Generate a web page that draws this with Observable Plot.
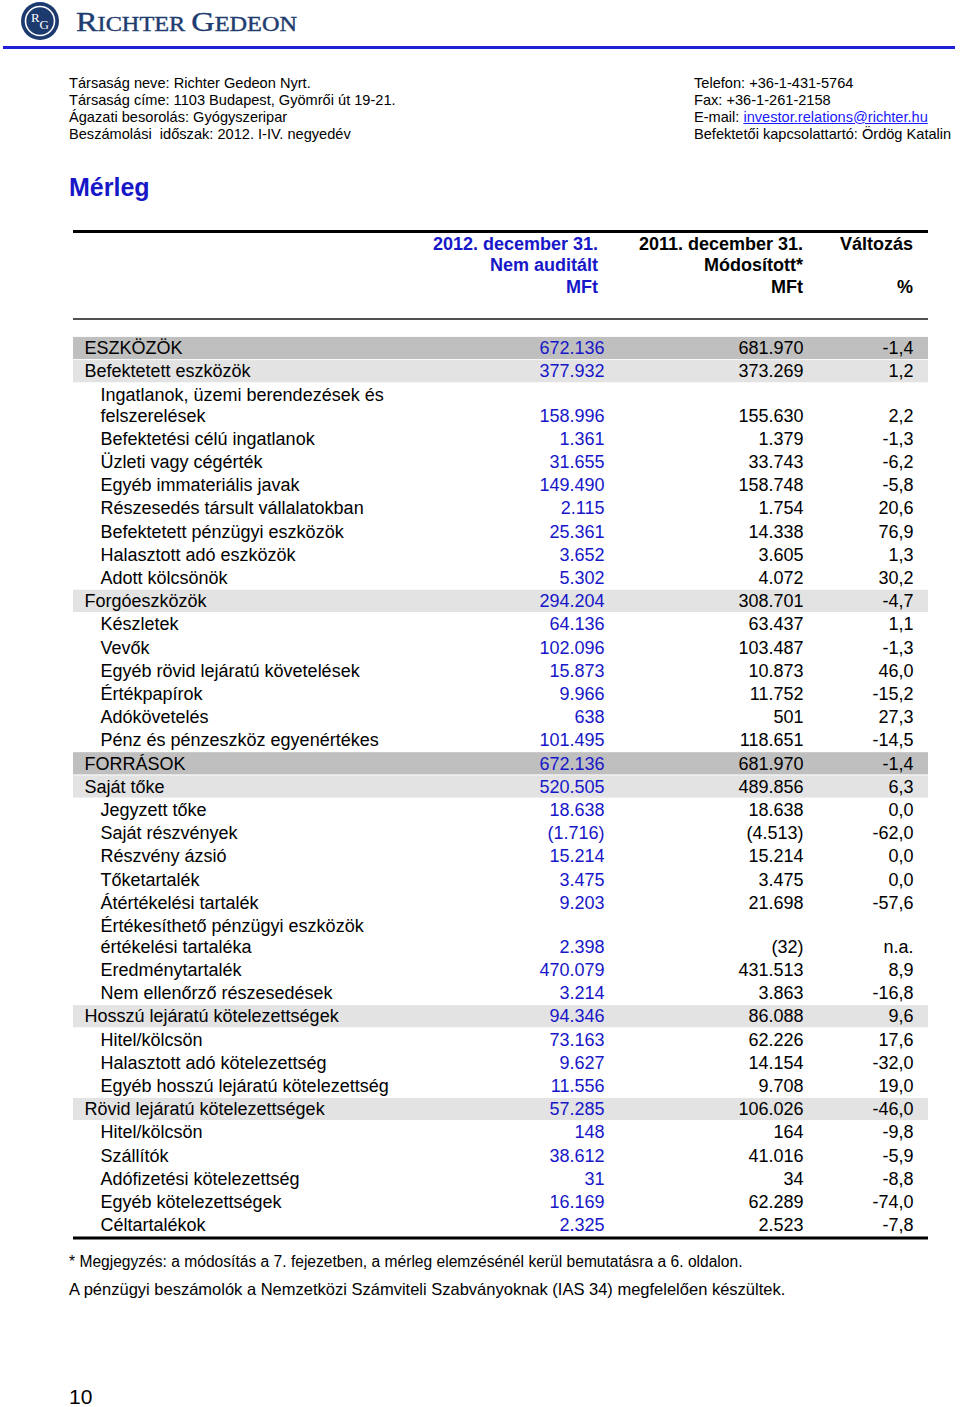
<!DOCTYPE html>
<html lang="hu">
<head>
<meta charset="utf-8">
<script src="https://cdn.jsdelivr.net/npm/d3@7"></script>
<script src="https://cdn.jsdelivr.net/npm/@observablehq/plot@0.6"></script>
<style>
  html, body { margin: 0; padding: 0; background: #fff; }
  body { width: 960px; height: 1407px; position: relative; overflow: hidden;
         font-family: "Liberation Sans", Arial, sans-serif; color: #000; }
  .abs { position: absolute; white-space: nowrap; }
  .info { font-size: 14.6px; line-height: 17px; }
  .hdr { font-size: 18px; font-weight: bold; line-height: 22px; text-align: right; }
  .blue { color: #1717c8; }
  a { color: #1a1aff; text-decoration: underline; }
  #table { position: absolute; left: 0; top: 322px; }
</style>
</head>
<body>
<!-- Logo and banner -->
<svg class="abs" style="left:0;top:0" width="960" height="52">
  <circle cx="40" cy="21" r="19" fill="#1c3a6e"/>
  <circle cx="40" cy="21" r="14.5" fill="none" stroke="#fff" stroke-width="1.6"/>
  <text x="31" y="22" fill="#fff" font-family="Liberation Serif, serif" font-size="13">R</text>
  <text x="39.5" y="29" fill="#fff" font-family="Liberation Serif, serif" font-size="13">G</text>
  <text x="76" y="31" fill="#1e3c70" stroke="#1e3c70" stroke-width="0.4" font-family="Liberation Serif, serif" textLength="221" lengthAdjust="spacingAndGlyphs"><tspan font-size="28">R</tspan><tspan font-size="21">ICHTER</tspan><tspan font-size="21"> </tspan><tspan font-size="28">G</tspan><tspan font-size="21">EDEON</tspan></text>
  <rect x="3" y="46" width="952" height="3" fill="#1f1fd6"/>
</svg>

<!-- Company info -->
<div class="abs info" style="left:69px;top:74.5px">Társaság neve: Richter Gedeon Nyrt.</div>
<div class="abs info" style="left:69px;top:91.5px">Társaság címe: 1103 Budapest, Gyömrői út 19-21.</div>
<div class="abs info" style="left:69px;top:108.5px">Ágazati besorolás: Gyógyszeripar</div>
<div class="abs info" style="left:69px;top:125.5px">Beszámolási&nbsp; időszak: 2012. I-IV. negyedév</div>
<div class="abs info" style="left:694px;top:74.5px">Telefon: +36-1-431-5764</div>
<div class="abs info" style="left:694px;top:91.5px">Fax: +36-1-261-2158</div>
<div class="abs info" style="left:694px;top:108.5px">E-mail: <a>investor.relations@richter.hu</a></div>
<div class="abs info" style="left:694px;top:125.5px">Befektetői kapcsolattartó: Ördög Katalin</div>

<!-- Title -->
<div class="abs blue" style="left:69px;top:172px;font-size:25px;font-weight:bold;line-height:30px">Mérleg</div>

<!-- Table header -->
<div class="abs" style="left:73px;top:230px;width:855px;height:3px;background:#000"></div>
<div class="abs hdr blue" style="left:0;width:598px;top:233px">2012. december 31.</div>
<div class="abs hdr blue" style="left:0;width:598px;top:254px">Nem auditált</div>
<div class="abs hdr blue" style="left:0;width:598px;top:276px">MFt</div>
<div class="abs hdr" style="left:0;width:803px;top:233px">2011. december 31.</div>
<div class="abs hdr" style="left:0;width:803px;top:254px">Módosított*</div>
<div class="abs hdr" style="left:0;width:803px;top:276px">MFt</div>
<div class="abs hdr" style="left:0;width:913px;top:233px">Változás</div>
<div class="abs hdr" style="left:0;width:913px;top:276px">%</div>
<div class="abs" style="left:73px;top:318px;width:855px;height:2px;background:#505050"></div>

<div id="table"></div>

<!-- Notes -->
<div class="abs" style="left:69px;top:1252px;font-size:15.6px;line-height:19px">* Megjegyzés: a módosítás a 7. fejezetben, a mérleg elemzésénél kerül bemutatásra a 6. oldalon.</div>
<div class="abs" style="left:69px;top:1279px;font-size:16.5px;line-height:20px">A pénzügyi beszámolók a Nemzetközi Számviteli Szabványoknak (IAS 34) megfelelően készültek.</div>
<div class="abs" style="left:69px;top:1384px;font-size:21px;line-height:26px">10</div>

<script>
// ---------------- Data ----------------
const labels = [
  "ESZKÖZÖK",
  "Befektetett eszközök",
  "Ingatlanok, üzemi berendezések és\nfelszerelések",
  "Befektetési célú ingatlanok",
  "Üzleti vagy cégérték",
  "Egyéb immateriális javak",
  "Részesedés társult vállalatokban",
  "Befektetett pénzügyi eszközök",
  "Halasztott adó eszközök",
  "Adott kölcsönök",
  "Forgóeszközök",
  "Készletek",
  "Vevők",
  "Egyéb rövid lejáratú követelések",
  "Értékpapírok",
  "Adókövetelés",
  "Pénz és pénzeszköz egyenértékes",
  "FORRÁSOK",
  "Saját tőke",
  "Jegyzett tőke",
  "Saját részvények",
  "Részvény ázsió",
  "Tőketartalék",
  "Átértékelési tartalék",
  "Értékesíthető pénzügyi eszközök\nértékelési tartaléka",
  "Eredménytartalék",
  "Nem ellenőrző részesedések",
  "Hosszú lejáratú kötelezettségek",
  "Hitel/kölcsön",
  "Halasztott adó kötelezettség",
  "Egyéb hosszú lejáratú kötelezettség",
  "Rövid lejáratú kötelezettségek",
  "Hitel/kölcsön",
  "Szállítók",
  "Adófizetési kötelezettség",
  "Egyéb kötelezettségek",
  "Céltartalékok"
];
// row level: 0 = main / group heading, 1 = indented item
const levels = [0,0,1,1,1,1,1,1,1,1,0,1,1,1,1,1,1,0,0,1,1,1,1,1,1,1,1,0,1,1,1,0,1,1,1,1,1];
// row shading: "dark" total rows, "light" subtotal rows
const shades = ["dark","light",null,null,null,null,null,null,null,null,"light",null,null,null,null,null,null,
                "dark","light",null,null,null,null,null,null,null,null,"light",null,null,null,"light",null,null,null,null,null];
// 2012. december 31. (MFt, unaudited)
const values2012 = [672136,377932,158996,1361,31655,149490,2115,25361,3652,5302,294204,64136,102096,15873,9966,638,101495,
                    672136,520505,18638,-1716,15214,3475,9203,2398,470079,3214,94346,73163,9627,11556,57285,148,38612,31,16169,2325];
// 2011. december 31. (MFt, restated)
const values2011 = [681970,373269,155630,1379,33743,158748,1754,14338,3605,4072,308701,63437,103487,10873,11752,501,118651,
                    681970,489856,18638,-4513,15214,3475,21698,-32,431513,3863,86088,62226,14154,9708,106026,164,41016,34,62289,2523];
// Változás (%), null = n.a.
const changes = [-1.4,1.2,2.2,-1.3,-6.2,-5.8,20.6,76.9,1.3,30.2,-4.7,1.1,-1.3,46.0,-15.2,27.3,-14.5,
                 -1.4,6.3,0.0,-62.0,0.0,0.0,-57.6,null,8.9,-16.8,9.6,17.6,-32.0,19.0,-46.0,-9.8,-5.9,-8.8,-74.0,-7.8];

// ---------------- Layout / style ----------------
const BAND_L = 73, BAND_R = 928;
const LABEL_X = [84, 100];
const COL1_X = 604, COL2_X = 803, COL3_X = 913;
const EXTRA_LINE = 0.9;          // extra height (in row units) for each wrapped line
const Y_TOP = 14.4, Y_BOTTOM = 914.6;
const BLUE = "#1717c8";
const SHADE = {dark: "#bfbfbf", light: "#e3e3e3"};
const FONT = "Liberation Sans, Arial, sans-serif";

const hu = d3.formatLocale({decimal: ",", thousands: ".", grouping: [3], currency: ["", ""], minus: "-"});
const fmtMFt = hu.format("(,.0f");
const fmtPct = hu.format(",.1f");

// Build rows with cumulative positions in "row units"
let cursor = 0;
const rows = labels.map((label, i) => {
  const lines = label.split("\n");
  const h = 1 + (lines.length - 1) * EXTRA_LINE;
  const start = cursor;
  cursor += h;
  const last = start + h - 0.5;
  return {
    i, lines, level: levels[i], shade: shades[i], start, end: start + h, last,
    v2012: values2012[i], v2011: values2011[i], change: changes[i]
  };
});
const total = cursor;

const labelLines = rows.flatMap(r => r.lines.map((t, k) => ({
  text: t, level: r.level, y: r.last - (r.lines.length - 1 - k) * EXTRA_LINE
})));

const chart = Plot.plot({
  width: 960,
  height: 930,
  margin: 0,
  x: {domain: [0, 960], range: [0, 960], axis: null},
  y: {domain: [0, total], range: [Y_TOP, Y_BOTTOM], axis: null},
  style: {background: "transparent", fontFamily: FONT},
  marks: [
    Plot.rect(rows.filter(r => r.shade === "dark"), {
      x1: BAND_L, x2: BAND_R, y1: "start", y2: "end", fill: SHADE.dark, insetBottom: 0.5, insetTop: 0.5
    }),
    Plot.rect(rows.filter(r => r.shade === "light"), {
      x1: BAND_L, x2: BAND_R, y1: "start", y2: "end", fill: SHADE.light, insetBottom: 0.5, insetTop: 0.5
    }),
    Plot.text(labelLines, {
      x: d => LABEL_X[d.level], y: "y", text: "text", textAnchor: "start",
      fill: "#000", fontSize: 18, fontFamily: FONT
    }),
    Plot.text(rows, {
      x: COL1_X, y: "last", text: d => fmtMFt(d.v2012), textAnchor: "end",
      fill: BLUE, fontSize: 18, fontFamily: FONT
    }),
    Plot.text(rows, {
      x: COL2_X, y: "last", text: d => fmtMFt(d.v2011), textAnchor: "end",
      fill: "#000", fontSize: 18, fontFamily: FONT
    }),
    Plot.text(rows, {
      x: COL3_X, y: "last", text: d => d.change == null ? "n.a." : fmtPct(d.change), textAnchor: "end",
      fill: "#000", fontSize: 18, fontFamily: FONT
    }),
    Plot.ruleY([total], {x1: BAND_L, x2: BAND_R, stroke: "#000", strokeWidth: 3, dy: 0.8})
  ]
});
document.getElementById("table").appendChild(chart);
</script>
</body>
</html>
